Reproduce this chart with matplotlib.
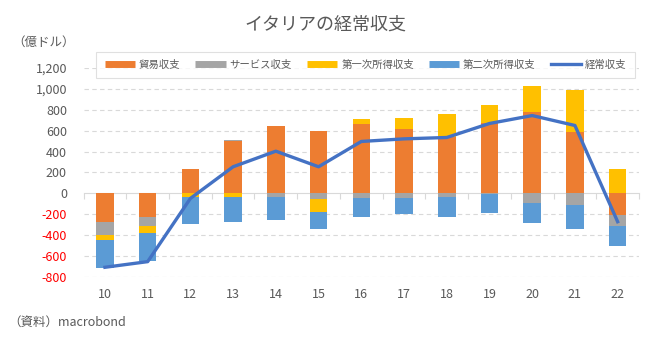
import numpy as np
import matplotlib
matplotlib.use("Agg")
import matplotlib.pyplot as plt
from matplotlib.lines import Line2D
from matplotlib.ticker import FuncFormatter

plt.rcParams['font.family'] = ['Noto Sans CJK JP', 'DejaVu Sans']

# イタリアの経常収支（億ドル）
years = ['10', '11', '12', '13', '14', '15', '16', '17', '18', '19', '20', '21', '22']
trade = [-274, -226, 232, 500, 643, 596, 662, 615, 541, 669, 777, 586, -207]
services = [-124, -86, 5, 10, -35, -54, -45, -45, -35, -4, -92, -111, -105]
primary = [-48, -67, -35, -35, 4, -124, 48, 105, 217, 175, 248, 401, 232]
secondary = [-268, -268, -258, -239, -220, -162, -182, -156, -191, -188, -191, -229, -191]
current = [-707, -653, -48, 255, 404, 255, 497, 522, 535, 669, 745, 650, -271]

series_names = ['貿易収支', 'サービス収支', '第一次所得収支', '第二次所得収支']
series_vals = [trade, services, primary, secondary]
colors = ['#ED7D31', '#A5A5A5', '#FFC000', '#5B9BD5']
line_color = '#4472C4'
text_gray = '#595959'
grid_gray = '#D9D9D9'

fig = plt.figure(figsize=(6.54, 3.42), dpi=100)
ax = fig.add_axes([83.6 / 654, 65 / 342, (639 - 83.6) / 654, 209 / 342])

x = np.arange(len(years))
pos_base = np.zeros(len(years))
neg_base = np.zeros(len(years))
for vals, c in zip(series_vals, colors):
    v = np.array(vals, dtype=float)
    bottom = np.where(v >= 0, pos_base, neg_base)
    ax.bar(x, v, width=0.41, bottom=bottom, color=c, zorder=2)
    pos_base += np.where(v >= 0, v, 0)
    neg_base += np.where(v < 0, v, 0)

ax.plot(x, current, color=line_color, lw=2.4, zorder=3, solid_joinstyle='round')

ax.set_xlim(-0.5, len(years) - 0.5)
ax.set_ylim(-800, 1200)
yt = np.arange(-800, 1201, 200)
ax.set_yticks(yt)
ax.yaxis.set_major_formatter(FuncFormatter(lambda v, p: f'{int(v):,}'))
ax.tick_params(axis='y', length=0, labelsize=9, labelcolor=text_gray, pad=12)
for lab, v in zip(ax.get_yticklabels(), yt):
    if v < 0:
        lab.set_color('red')

for v in yt:
    if v != 0:
        ax.axhline(v, color=grid_gray, lw=0.8, ls=(0, (4, 3)), zorder=1)

for s in ['top', 'right', 'left']:
    ax.spines[s].set_visible(False)
ax.spines['bottom'].set_position(('data', 0))
ax.spines['bottom'].set_color(grid_gray)
ax.spines['bottom'].set_zorder(1.5)
ax.set_xticks(np.arange(-0.5, len(years), 1))
ax.set_xticklabels([])
ax.tick_params(axis='x', length=4, color=grid_gray, direction='out')

sec = ax.secondary_xaxis(0)
sec.set_xticks(x)
sec.set_xticklabels(years)
sec.tick_params(length=0, labelsize=9, labelcolor=text_gray, pad=8)
sec.spines['bottom'].set_visible(False)

handles = [Line2D([0], [0], color=c, lw=5, solid_capstyle='butt') for c in colors]
handles.append(Line2D([0], [0], color=line_color, lw=2.4))
leg = fig.legend(handles, series_names + ['経常収支'], loc='center', ncol=5,
                 bbox_to_anchor=(91 / 654, 1 - 82 / 342, (640 - 91) / 654, 34 / 342),
                 mode='expand', fontsize=7.5, handlelength=2.9, handletextpad=0.4,
                 frameon=True, fancybox=False, borderpad=0.8)
leg.get_frame().set_edgecolor(grid_gray)
leg.get_frame().set_linewidth(0.8)
for t in leg.get_texts():
    t.set_color(text_gray)

fig.text(0.497, 1 - 25 / 342, 'イタリアの経常収支', ha='center', va='center',
         fontsize=13, color=text_gray)
fig.text(12 / 654, 1 - 42 / 342, '（億ドル）', ha='left', va='center',
         fontsize=9, color=text_gray)
fig.text(8 / 654, 1 - 322 / 342, '（資料）macrobond', ha='left', va='center',
         fontsize=9, color=text_gray)

fig.savefig('out.png', dpi=100)
